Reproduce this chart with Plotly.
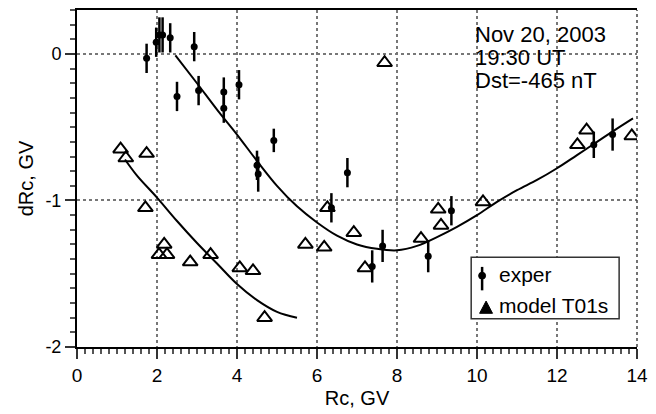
import plotly.graph_objects as go

# ---------------- data ----------------
exp_x = [1.74, 1.98, 2.06, 2.14, 2.33, 2.50, 2.93, 3.04, 3.67, 3.67, 4.05, 4.50, 4.53, 4.92,
         6.36, 6.76, 7.38, 7.64, 8.78, 9.36, 12.92, 13.39]
exp_y = [-0.03, 0.08, 0.13, 0.13, 0.11, -0.29, 0.05, -0.25, -0.26, -0.37, -0.21, -0.76, -0.82, -0.59,
         -1.05, -0.81, -1.45, -1.31, -1.38, -1.07, -0.62, -0.55]
exp_err = [0.10, 0.10, 0.12, 0.12, 0.10, 0.10, 0.10, 0.10, 0.10, 0.10, 0.10, 0.10, 0.12, 0.08,
           0.10, 0.10, 0.11, 0.11, 0.11, 0.10, 0.09, 0.11]

mod_x = [1.09, 1.22, 1.74, 1.71, 2.18, 2.05, 2.25, 2.83, 3.34, 4.07, 4.40, 4.69, 5.71, 6.18,
         6.26, 6.92, 7.20, 7.69, 8.60, 9.03, 9.10, 10.15, 12.51, 12.74, 13.87]
mod_y = [-0.65, -0.71, -0.68, -1.05, -1.30, -1.37, -1.37, -1.42, -1.37, -1.46, -1.48, -1.80, -1.30, -1.32,
         -1.05, -1.22, -1.46, -0.06, -1.26, -1.06, -1.17, -1.01, -0.62, -0.52, -0.56]

fit_exp_x = [2.46, 3.0, 3.5, 4.0, 4.5, 5.0, 5.5, 6.0, 6.5, 7.0, 7.5, 8.0, 8.5, 9.0, 9.5,
             10.0, 10.5, 11.0, 11.5, 12.0, 12.5, 13.0, 13.5, 13.9]
fit_exp_y = [-0.01, -0.20, -0.38, -0.55, -0.73, -0.90, -1.04, -1.15, -1.24, -1.30, -1.33, -1.34, -1.31,
             -1.25, -1.18, -1.10, -1.01, -0.93, -0.86, -0.78, -0.69, -0.60, -0.51, -0.44]

fit_mod_x = [1.2, 1.5, 2.0, 2.5, 3.0, 3.5, 4.0, 4.5, 5.0, 5.5]
fit_mod_y = [-0.72, -0.83, -0.98, -1.14, -1.29, -1.43, -1.57, -1.68, -1.76, -1.80]

y_ticklabels = ["-2", "-1"]

info_lines = ["Nov 20, 2003", "19:30 UT", "Dst=-465 nT"]
legend_labels = ["exper", "model T01s"]

X_RANGE = [0, 14]
Y_RANGE = [-2, 0.3]

# minor tick positions (axis configuration)
x_minor = [round(0.2 * i, 2) for i in range(0, 71)]
y_minor = [round(-2 + 0.1 * i, 2) for i in range(0, 24)]

# ---------------- layout geometry ----------------
W, H = 656, 414
L, R, T, B = 77, 641, 8, 353
FONT = "Liberation Sans, Arial, sans-serif"


def px(xp):
    return (xp - L) / (R - L)


def py(yp):
    return (B - yp) / (B - T)


fig = go.Figure()

fig.add_trace(go.Scatter(x=fit_exp_x, y=fit_exp_y, mode="lines", line=dict(color="black", width=2, shape="spline"),
                         showlegend=False, hoverinfo="skip"))
fig.add_trace(go.Scatter(x=fit_mod_x, y=fit_mod_y, mode="lines", line=dict(color="black", width=2, shape="spline"),
                         showlegend=False, hoverinfo="skip"))
fig.add_trace(go.Scatter(x=mod_x, y=mod_y, mode="markers",
                         marker=dict(symbol="triangle-up-open", size=13, color="black", line=dict(width=2, color="black")),
                         showlegend=False))
fig.add_trace(go.Scatter(x=exp_x, y=exp_y, mode="markers",
                         marker=dict(symbol="circle", size=7, color="black"),
                         error_y=dict(type="data", array=exp_err, visible=True, color="black", thickness=2.5, width=0),
                         showlegend=False))

shapes = []
# right border (dotted)
shapes.append(dict(type="line", xref="paper", yref="paper", x0=1, x1=1, y0=0, y1=1,
                   line=dict(color="#444", width=1.5, dash="dot")))
# legend box
shapes.append(dict(type="rect", xref="paper", yref="paper", x0=px(474), x1=px(623), y0=py(324), y1=py(261),
                   line=dict(color="#333", width=1.5), fillcolor="white"))
# exper legend symbol
shapes.append(dict(type="line", xref="paper", yref="paper", x0=px(485), x1=px(485), y0=py(295), y1=py(271),
                   line=dict(color="black", width=2.5)))
shapes.append(dict(type="circle", xref="paper", yref="paper", x0=px(481.5), x1=px(488.5), y0=py(283.5), y1=py(276.5),
                   line=dict(color="black", width=1), fillcolor="black"))
# model legend symbol (filled triangle)
tri = "M {:.5f},{:.5f} L {:.5f},{:.5f} L {:.5f},{:.5f} Z".format(px(482.5), py(318.5), px(495.5), py(318.5), px(489), py(306))
shapes.append(dict(type="path", xref="paper", yref="paper", path=tri, line=dict(color="black", width=1),
                   fillcolor="black"))

annotations = []
for i, t in enumerate(info_lines):
    annotations.append(dict(xref="paper", yref="paper", x=px(476), y=py(33 + 23.5 * i), text=t, showarrow=False,
                            xanchor="left", yanchor="middle", font=dict(family=FONT, size=22, color="black")))
for i, t in enumerate(legend_labels):
    annotations.append(dict(xref="paper", yref="paper", x=px(500), y=py(279 + 32 * i), text=t, showarrow=False,
                            xanchor="left", yanchor="middle", font=dict(family=FONT, size=21, color="black")))

# plotly renders negative numbers with a unicode minus; the reference uses a plain hyphen
alias = {"\u2212" + lab.lstrip("-"): lab for lab in y_ticklabels}

fig.update_layout(
    width=W, height=H,
    margin=dict(l=L, r=W - R, t=T, b=H - B),
    paper_bgcolor="white", plot_bgcolor="white",
    font=dict(family=FONT, color="black"),
    shapes=shapes, annotations=annotations,
    showlegend=False,
)
fig.update_xaxes(
    range=X_RANGE, tickmode="linear", tick0=0, dtick=2,
    showline=True, linecolor="black", linewidth=2, mirror=True,
    ticks="outside", ticklen=10, tickwidth=2, tickcolor="#333",
    tickfont=dict(size=19, family=FONT, color="black"),
    showgrid=True, gridcolor="#777", griddash="dot", gridwidth=1.5,
    zeroline=False,
    minor=dict(tickmode="array", tickvals=x_minor, ticks="outside", ticklen=5, tickwidth=1.5,
               tickcolor="#555", showgrid=False),
    title=dict(text="Rc, GV", font=dict(size=20, family=FONT, color="black"), standoff=6),
)
fig.update_yaxes(
    range=Y_RANGE, tickmode="linear", tick0=0, dtick=1, labelalias=alias,
    showline=True, linecolor="black", linewidth=2, mirror=False,
    ticks="outside", ticklen=10, tickwidth=2, tickcolor="#333",
    tickfont=dict(size=18, family=FONT, color="black"),
    showgrid=True, gridcolor="#777", griddash="dot", gridwidth=1.5,
    zeroline=False,
    minor=dict(tickmode="array", tickvals=y_minor, ticks="outside", ticklen=5, tickwidth=1.5,
               tickcolor="#555", showgrid=False),
    title=dict(text="dRc, GV", font=dict(size=20, family=FONT, color="black"), standoff=6),
)

fig.write_html("out.html")
